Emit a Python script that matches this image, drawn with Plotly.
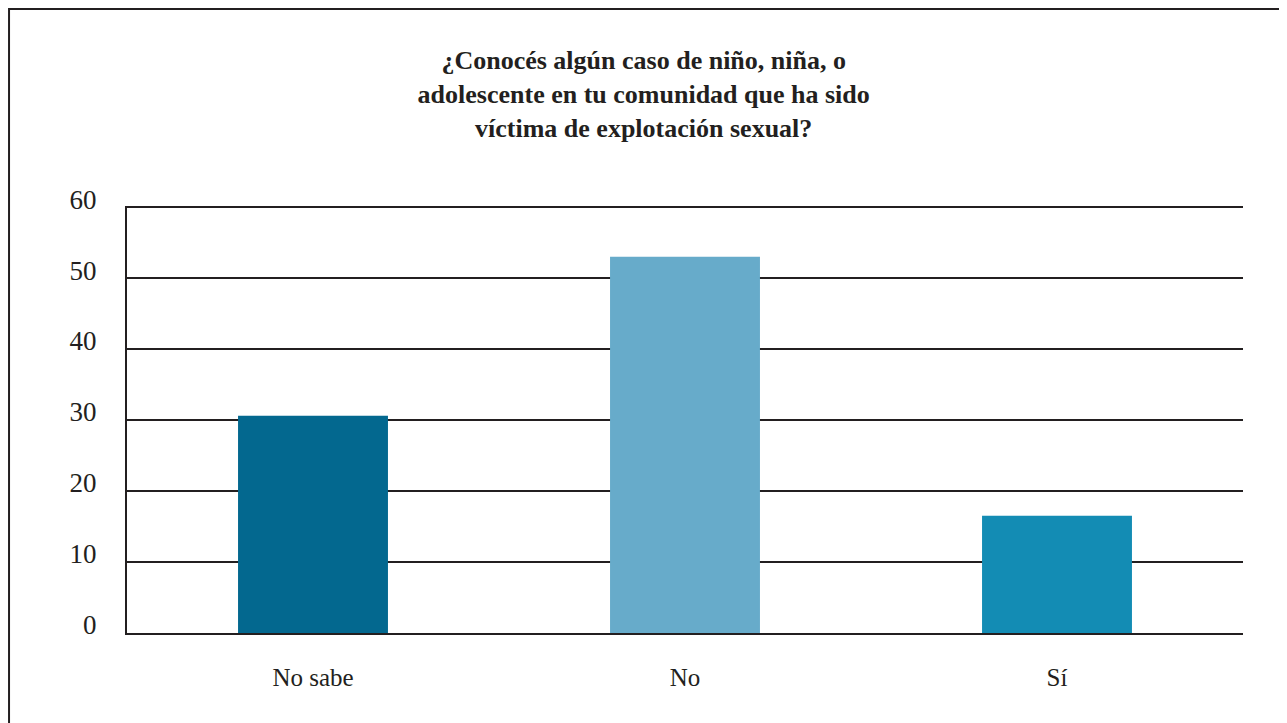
import plotly.graph_objects as go

categories = ["No sabe", "No", "Sí"]
values = [30.6, 53.0, 16.5]
colors = ["#03688F", "#67ABCA", "#138CB4"]
tick_vals = [0, 10, 20, 30, 40, 50, 60]

title = ("<b>¿Conocés algún caso de niño, niña, o<br>"
         "adolescente en tu comunidad que ha sido<br>"
         "víctima de explotación sexual?</b>")

ink = "#231F20"
serif = "Liberation Serif, DejaVu Serif, serif"

fig = go.Figure()

fig.add_trace(go.Bar(
    x=categories,
    y=values,
    marker=dict(color=colors, line=dict(width=0)),
    hoverinfo="x+y",
))

fig.update_layout(
    width=1287,
    height=723,
    margin=dict(l=119, r=52, t=198, b=98),
    paper_bgcolor="white",
    plot_bgcolor="white",
    bargap=0.597,
    showlegend=False,
    font=dict(family=serif, color=ink),
    title=dict(
        text=title,
        x=0.463, xanchor="center", xref="paper",
        y=0.915, yanchor="top", yref="container",
        font=dict(family=serif, size=26, color=ink),
    ),
    xaxis=dict(
        showline=True, linecolor=ink, linewidth=2,
        showgrid=False, ticks="",
        tickfont=dict(size=25, family=serif, color=ink),
        ticklabelstandoff=21,
    ),
    yaxis=dict(
        range=[0, 60.15],
        tickvals=tick_vals,
        showline=True, linecolor=ink, linewidth=2,
        showgrid=True, gridcolor=ink, gridwidth=2,
        zeroline=False, ticks="",
        tickfont=dict(size=27, family=serif, color=ink),
        ticklabelstandoff=23,
        ticklabelshift=-8,
    ),
    shapes=[dict(
        type="rect", xref="paper", yref="paper",
        x0=-0.1057, x1=1.0376, y0=-0.3, y1=1.4614,
        line=dict(color=ink, width=2), fillcolor="rgba(0,0,0,0)",
        layer="below",
    )],
)

fig.write_html("out.html")
